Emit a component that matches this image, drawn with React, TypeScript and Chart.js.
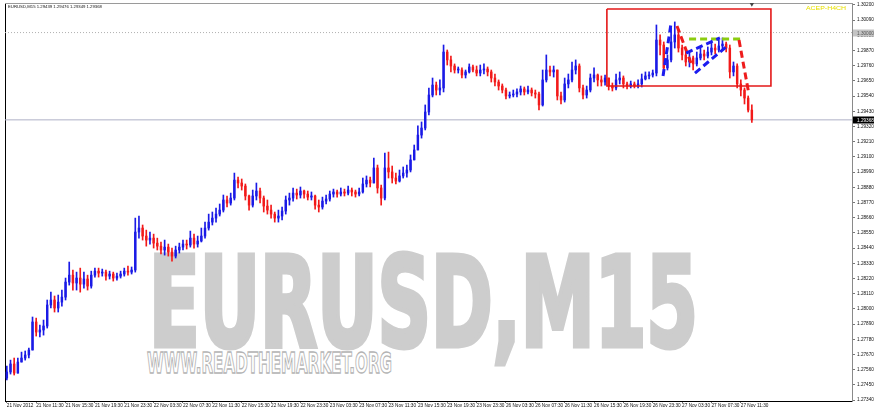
import React, { useEffect, useLayoutEffect, useRef } from "react";
import { Chart, registerables } from "chart.js";

Chart.register(...registerables);

// ---------- data (EURUSD M15, bars of 30 min) ----------
const FIRST_OPEN = 1.27499;

const closes = [
  1.27543, 1.27601, 1.27535, 1.27615, 1.27644, 1.27666, 1.27702, 1.27905, 1.27832, 1.27847,
  1.27876, 1.28028, 1.28064, 1.28006, 1.28049, 1.28085, 1.28194, 1.28244, 1.28187, 1.28223,
  1.28179, 1.28216, 1.28165, 1.28244, 1.28273, 1.28259, 1.28266, 1.28237, 1.28252, 1.28223,
  1.28237, 1.28252, 1.28273, 1.28266, 1.28281, 1.28556, 1.28585, 1.28527, 1.28498, 1.28512,
  1.28476, 1.28454, 1.28426, 1.28447, 1.28411, 1.28382, 1.28426, 1.28447, 1.28469, 1.28462,
  1.28512, 1.28469, 1.28491, 1.28527, 1.28585, 1.28628, 1.28657, 1.28686, 1.28715, 1.28788,
  1.28766, 1.28802, 1.28932, 1.28911, 1.28889, 1.28817, 1.28751, 1.28817, 1.28853, 1.28802,
  1.28744, 1.28715, 1.28686, 1.28657, 1.28672, 1.28708, 1.28788, 1.28802, 1.28838, 1.28824,
  1.28853, 1.28831, 1.28809, 1.28817, 1.28751, 1.28737, 1.28780, 1.28795, 1.28831, 1.28846,
  1.28831, 1.28846, 1.28838, 1.28860, 1.28846, 1.28831, 1.28846, 1.28904, 1.28932, 1.28911,
  1.29020, 1.28875, 1.28802, 1.29020, 1.28991, 1.28947, 1.28925, 1.28962, 1.28983, 1.29005,
  1.29078, 1.29150, 1.29258, 1.29309, 1.29425, 1.29548, 1.29620, 1.29584, 1.29599, 1.29859,
  1.29802, 1.29758, 1.29729, 1.29729, 1.29693, 1.29715, 1.29751, 1.29729, 1.29707, 1.29729,
  1.29736, 1.29715, 1.29671, 1.29642, 1.29613, 1.29584, 1.29541, 1.29548, 1.29555, 1.29570,
  1.29592, 1.29570, 1.29584, 1.29563, 1.29555, 1.29476, 1.29657, 1.29729, 1.29715, 1.29729,
  1.29541, 1.29512, 1.29628, 1.29657, 1.29729, 1.29758, 1.29599, 1.29548, 1.29584, 1.29671,
  1.29693, 1.29657, 1.29642, 1.29671, 1.29613, 1.29599, 1.29657, 1.29671, 1.29628, 1.29613,
  1.29628, 1.29613, 1.29628, 1.29664, 1.29686, 1.29693, 1.29707, 1.29946, 1.29910, 1.29744,
  1.29802, 1.29932, 1.29983, 1.29888, 1.29838, 1.29787, 1.29816, 1.29773, 1.29816, 1.29845,
  1.29830, 1.29859, 1.29888, 1.29874, 1.29903, 1.29917, 1.29888, 1.29715, 1.29758, 1.29628,
  1.29584, 1.29526, 1.29439, 1.29368,
];

const highs = [
  1.27586, 1.27629, 1.27644, 1.27644, 1.27687, 1.27695, 1.27716, 1.27941, 1.27933, 1.27883,
  1.27919, 1.28064, 1.28121, 1.28093, 1.28100, 1.28136, 1.28223, 1.28339, 1.28281, 1.28266,
  1.28295, 1.28266, 1.28244, 1.28273, 1.28295, 1.28295, 1.28288, 1.28281, 1.28273, 1.28266,
  1.28259, 1.28273, 1.28295, 1.28310, 1.28303, 1.28657, 1.28672, 1.28607, 1.28570, 1.28556,
  1.28541, 1.28512, 1.28484, 1.28498, 1.28469, 1.28440, 1.28454, 1.28476, 1.28498, 1.28498,
  1.28563, 1.28541, 1.28527, 1.28585, 1.28628, 1.28686, 1.28701, 1.28730, 1.28759, 1.28824,
  1.28817, 1.28838, 1.28983, 1.28954, 1.28940, 1.28904, 1.28824, 1.28860, 1.28911, 1.28875,
  1.28817, 1.28788, 1.28751, 1.28701, 1.28715, 1.28737, 1.28817, 1.28838, 1.28875, 1.28867,
  1.28882, 1.28860, 1.28853, 1.28846, 1.28824, 1.28788, 1.28809, 1.28824, 1.28853, 1.28867,
  1.28860, 1.28875, 1.28867, 1.28889, 1.28875, 1.28860, 1.28875, 1.28947, 1.28962, 1.28954,
  1.29092, 1.29041, 1.28896, 1.29128, 1.29135, 1.29034, 1.28983, 1.29005, 1.29027, 1.29041,
  1.29114, 1.29186, 1.29324, 1.29353, 1.29476, 1.29599, 1.29671, 1.29642, 1.29657, 1.29910,
  1.29874, 1.29830, 1.29773, 1.29751, 1.29744, 1.29729, 1.29773, 1.29765, 1.29758, 1.29765,
  1.29773, 1.29751, 1.29729, 1.29700, 1.29657, 1.29628, 1.29599, 1.29570, 1.29584, 1.29592,
  1.29613, 1.29606, 1.29613, 1.29599, 1.29584, 1.29570, 1.29729, 1.29838, 1.29758, 1.29758,
  1.29729, 1.29570, 1.29671, 1.29700, 1.29787, 1.29802, 1.29773, 1.29620, 1.29613, 1.29700,
  1.29744, 1.29700, 1.29686, 1.29693, 1.29657, 1.29635, 1.29700, 1.29715, 1.29686, 1.29642,
  1.29649, 1.29642, 1.29657, 1.29700, 1.29715, 1.29715, 1.29729, 1.30055, 1.29983, 1.29932,
  1.29838, 1.30033, 1.30077, 1.30019, 1.29910, 1.29874, 1.29852, 1.29830, 1.29859, 1.29888,
  1.29874, 1.29896, 1.29932, 1.29917, 1.29946, 1.29961, 1.29932, 1.29910, 1.29787, 1.29773,
  1.29657, 1.29599, 1.29541, 1.29476,
];

const lows = [
  1.27485, 1.27528, 1.27521, 1.27572, 1.27615, 1.27629, 1.27644, 1.27731, 1.27803, 1.27796,
  1.27810, 1.27861, 1.28006, 1.27977, 1.27977, 1.28020, 1.28064, 1.28172, 1.28136, 1.28136,
  1.28121, 1.28150, 1.28136, 1.28150, 1.28230, 1.28230, 1.28237, 1.28208, 1.28216, 1.28201,
  1.28208, 1.28223, 1.28237, 1.28244, 1.28252, 1.28266, 1.28512, 1.28498, 1.28454, 1.28469,
  1.28440, 1.28426, 1.28397, 1.28389, 1.28382, 1.28346, 1.28368, 1.28404, 1.28426, 1.28433,
  1.28447, 1.28440, 1.28447, 1.28484, 1.28512, 1.28570, 1.28607, 1.28628, 1.28672, 1.28701,
  1.28737, 1.28751, 1.28788, 1.28875, 1.28860, 1.28788, 1.28715, 1.28737, 1.28788, 1.28766,
  1.28701, 1.28686, 1.28657, 1.28628, 1.28628, 1.28643, 1.28686, 1.28751, 1.28780, 1.28795,
  1.28802, 1.28802, 1.28788, 1.28788, 1.28722, 1.28701, 1.28722, 1.28759, 1.28780, 1.28809,
  1.28809, 1.28817, 1.28817, 1.28824, 1.28817, 1.28809, 1.28817, 1.28838, 1.28882, 1.28882,
  1.28911, 1.28838, 1.28751, 1.28788, 1.28947, 1.28911, 1.28904, 1.28918, 1.28947, 1.28954,
  1.28991, 1.29078, 1.29150, 1.29236, 1.29295, 1.29403, 1.29534, 1.29548, 1.29548, 1.29570,
  1.29765, 1.29715, 1.29707, 1.29707, 1.29671, 1.29671, 1.29707, 1.29715, 1.29686, 1.29686,
  1.29700, 1.29686, 1.29642, 1.29613, 1.29584, 1.29563, 1.29519, 1.29526, 1.29534, 1.29534,
  1.29548, 1.29548, 1.29555, 1.29541, 1.29526, 1.29440, 1.29468, 1.29642, 1.29686, 1.29678,
  1.29512, 1.29483, 1.29497, 1.29599, 1.29642, 1.29700, 1.29570, 1.29519, 1.29526, 1.29570,
  1.29642, 1.29613, 1.29613, 1.29620, 1.29584, 1.29577, 1.29584, 1.29628, 1.29599, 1.29592,
  1.29599, 1.29599, 1.29599, 1.29606, 1.29657, 1.29664, 1.29678, 1.29686, 1.29838, 1.29700,
  1.29729, 1.29787, 1.29888, 1.29859, 1.29802, 1.29758, 1.29751, 1.29729, 1.29758, 1.29802,
  1.29802, 1.29816, 1.29838, 1.29845, 1.29859, 1.29874, 1.29859, 1.29671, 1.29686, 1.29599,
  1.29541, 1.29483, 1.29425, 1.29349,
];

const xTickLabels = [
  "21 Nov 2012", "21 Nov 11:30", "21 Nov 15:30", "21 Nov 19:30", "21 Nov 23:30",
  "22 Nov 03:30", "22 Nov 07:30", "22 Nov 11:30", "22 Nov 15:30", "22 Nov 19:30", "22 Nov 23:30",
  "23 Nov 03:30", "23 Nov 07:30", "23 Nov 11:30", "23 Nov 15:30", "23 Nov 19:30", "23 Nov 23:30",
  "26 Nov 03:30", "26 Nov 07:30", "26 Nov 11:30", "26 Nov 15:30", "26 Nov 19:30", "26 Nov 23:30",
  "27 Nov 03:30", "27 Nov 07:30", "27 Nov 11:30",
];
const BARS_PER_LABEL = 8;

const yTickValues = [
  1.302, 1.3009, 1.2998, 1.2987, 1.2976, 1.2965, 1.2954, 1.2943, 1.2932, 1.2921, 1.291,
  1.2899, 1.2888, 1.2877, 1.2866, 1.2855, 1.2844, 1.2833, 1.2822, 1.2811, 1.28, 1.2789,
  1.2778, 1.2767, 1.2756, 1.2745, 1.2734,
];

const CURRENT_PRICE = 1.29368;
const LEVEL_PRICE = 1.3;
const HEADER = "EURUSD,M15 1.29439 1.29476 1.29349 1.29368";

// red box (bar index / price)
const boxX = [163.5, 208.2];
const boxY = [1.30171, 1.29613];

// hand drawn dashed trend lines: [x1, y1, x2, y2]
const blueLines = [
  [178.8, 1.29686, 181.0, 1.30069],
  [185.1, 1.29852, 194.3, 1.29961],
  [187.5, 1.29707, 196.0, 1.29896],
];
const redLines = [
  [182.6, 1.30048, 186.4, 1.2978],
  [199.5, 1.29946, 202.2, 1.29555],
];
const greenLines = [[185.9, 1.29954, 200.6, 1.29954]];
const shiftMarker = [203, 1.30205];

// ---------- view ----------
const X_MIN = -0.5;
const X_MAX = 230.29;
const Y_MIN = 1.27333;
const Y_MAX = 1.30214;
const UP = "#1a1ae6";
const DOWN = "#f21a1a";
const FONT = '"Liberation Sans", Arial, sans-serif';

function FitText(props: {
  text: string; left: number; top: number; width: number; fontSize: number;
  scaleY?: number; style?: React.CSSProperties;
}) {
  const ref = useRef<HTMLSpanElement>(null);
  useLayoutEffect(() => {
    const fit = () => {
      const el = ref.current;
      if (!el) return;
      el.style.transform = "none";
      const w = el.getBoundingClientRect().width;
      if (w > 0) el.style.transform = `scale(${props.width / w}, ${props.scaleY ?? 1})`;
    };
    fit();
    (document as any).fonts?.ready?.then(fit);
  }, []);
  return (
    <span
      ref={ref}
      style={{
        position: "absolute", left: props.left, top: props.top, fontSize: props.fontSize,
        lineHeight: 1, whiteSpace: "nowrap", transformOrigin: "0 0", ...props.style,
      }}
    >
      {props.text}
    </span>
  );
}

const priceTags = {
  id: "priceTags",
  afterDraw(chart: any) {
    const { ctx, chartArea } = chart;
    const y = chart.scales.y;
    const tag = (val: number, bg: string, fg: string) => {
      const py = Math.round(y.getPixelForValue(val));
      ctx.save();
      ctx.fillStyle = bg;
      ctx.fillRect(chartArea.right + 1, py - 3.5, 21, 7);
      ctx.fillStyle = fg;
      ctx.font = `4.7px ${FONT}`;
      ctx.textBaseline = "middle";
      ctx.textAlign = "left";
      ctx.fillText(val.toFixed(5), chartArea.right + 5, py + 0.3);
      ctx.restore();
    };
    tag(LEVEL_PRICE, "#c4c4c4", "#555");
    tag(CURRENT_PRICE, "#000", "#fff");
  },
};

export default function App() {
  const canvasRef = useRef<HTMLCanvasElement>(null);

  useEffect(() => {
    const opens = closes.map((_, i) => (i === 0 ? FIRST_OPEN : closes[i - 1]));
    const colors = closes.map((c, i) => (c >= opens[i] ? UP : DOWN));
    const wickData = closes.map((c, i) => ({
      x: i,
      y: [Math.min(lows[i], opens[i], c), Math.max(highs[i], opens[i], c)],
    }));
    const bodyData = closes.map((c, i) => ({ x: i, y: [opens[i], c] }));

    const seg = (s: number[], color: string) => ({
      type: "line" as const,
      data: [{ x: s[0], y: s[1] }, { x: s[2], y: s[3] }],
      borderColor: color,
      borderWidth: 3,
      borderDash: [7, 4],
      pointRadius: 0,
      order: 0,
      clip: false as any,
    });

    const chart = new Chart(canvasRef.current!, {
      type: "bar",
      data: {
        datasets: [
          {
            type: "line",
            data: [{ x: X_MIN, y: CURRENT_PRICE }, { x: X_MAX, y: CURRENT_PRICE }],
            borderColor: "#aeb0c6",
            borderWidth: 1,
            pointRadius: 0,
            order: 5,
          } as any,
          {
            type: "line",
            data: [{ x: X_MIN, y: LEVEL_PRICE }, { x: X_MAX, y: LEVEL_PRICE }],
            borderColor: "#b0b0b0",
            borderWidth: 1,
            borderDash: [1, 2],
            pointRadius: 0,
            order: 5,
          } as any,
          {
            type: "bar",
            data: wickData,
            backgroundColor: colors,
            barThickness: 1,
            grouped: false,
            order: 3,
          } as any,
          {
            type: "bar",
            data: bodyData,
            backgroundColor: colors,
            barThickness: 1.8,
            minBarLength: 1,
            grouped: false,
            order: 2,
          } as any,
          {
            type: "line",
            data: [
              { x: boxX[0], y: boxY[0] }, { x: boxX[1], y: boxY[0] },
              { x: boxX[1], y: boxY[1] }, { x: boxX[0], y: boxY[1] },
              { x: boxX[0], y: boxY[0] },
            ],
            borderColor: "#e41818",
            borderWidth: 1.6,
            pointRadius: 0,
            order: 1,
          } as any,
          ...blueLines.map((s) => seg(s, "#1c1cf0")),
          ...redLines.map((s) => seg(s, "#ee1c1c")),
          ...greenLines.map((s) => seg(s, "#8ccc10")),
          {
            type: "line",
            data: [{ x: shiftMarker[0], y: shiftMarker[1] }],
            showLine: false,
            pointStyle: "triangle",
            rotation: 180,
            pointRadius: 2.5,
            pointBackgroundColor: "#444",
            pointBorderWidth: 0,
            clip: false,
            order: 0,
          } as any,
        ],
      },
      options: {
        responsive: false,
        animation: false,
        events: [],
        layout: { padding: { left: 5, top: 3, right: 0, bottom: 0 }, autoPadding: false } as any,
        plugins: {
          legend: { display: false },
          tooltip: { enabled: false },
          title: { display: false },
        },
        scales: {
          x: {
            type: "linear",
            position: "bottom",
            min: X_MIN,
            max: X_MAX,
            offset: false,
            afterBuildTicks: (s: any) => {
              s.ticks = xTickLabels.map((_, k) => ({ value: k * BARS_PER_LABEL }));
            },
            afterFit: (s: any) => {
              s.height = 9;
              s.paddingLeft = 0;
              s.paddingRight = 0;
            },
            ticks: {
              autoSkip: false,
              maxRotation: 0,
              minRotation: 0,
              align: "start",
              padding: 0,
              color: "#111",
              font: { size: 4.7, family: FONT },
              callback: (_v: any, i: number) => xTickLabels[i] ?? "",
            },
            grid: { drawOnChartArea: false, tickLength: 2, color: "#777", offset: false },
            border: { display: true, color: "#000", width: 1 },
          } as any,
          y: {
            type: "linear",
            position: "right",
            min: Y_MIN,
            max: Y_MAX,
            afterBuildTicks: (s: any) => {
              s.ticks = yTickValues.map((v) => ({ value: v }));
            },
            afterFit: (s: any) => {
              s.width = 22;
              s.paddingTop = 0;
              s.paddingBottom = 0;
            },
            ticks: {
              padding: 2,
              color: "#111",
              font: { size: 4.7, family: FONT },
              callback: (v: any) => Number(v).toFixed(5),
            },
            grid: { drawOnChartArea: false, tickLength: 3, color: "#777" },
            border: { display: true, color: "#8a8a8a", width: 1 },
          } as any,
          yl: {
            type: "linear",
            display: true,
            position: "left",
            min: Y_MIN,
            max: Y_MAX,
            ticks: { display: false },
            grid: { display: false, drawTicks: false },
            border: { display: true, color: "#000", width: 1 },
            afterFit: (s: any) => {
              s.width = 0;
              s.paddingTop = 0;
              s.paddingBottom = 0;
            },
          } as any,
          xt: {
            type: "linear",
            display: true,
            position: "top",
            min: X_MIN,
            max: X_MAX,
            ticks: { display: false },
            grid: { display: false, drawTicks: false },
            border: { display: true, color: "#9a9a9a", width: 1 },
            afterFit: (s: any) => {
              s.height = 0;
              s.paddingLeft = 0;
              s.paddingRight = 0;
            },
          } as any,
        },
      },
      plugins: [priceTags],
    });
    return () => chart.destroy();
  }, []);

  return (
    <div
      style={{
        position: "fixed", left: 0, top: 0, width: 874, height: 410,
        background: "#fff", overflow: "hidden",
      }}
    >
      <FitText
        text="EURUSD,M15"
        left={149}
        top={240}
        width={549}
        fontSize={125}
        style={{
          fontFamily: '"Liberation Sans Narrow", "DejaVu Sans Condensed", "Liberation Sans", sans-serif',
          fontWeight: 700, color: "#cdcdcd", WebkitTextStroke: "5px #cdcdcd", zIndex: 0,
        } as any}
      />
      <FitText
        text="WWW.READTHEMARKET.ORG"
        left={147}
        top={349}
        width={245}
        fontSize={29}
        style={{
          fontFamily: '"Liberation Sans Narrow", "DejaVu Sans Condensed", "Liberation Sans", sans-serif',
          fontWeight: 700, color: "#ffffff", WebkitTextStroke: "1.3px #b4b4b4", zIndex: 0,
        } as any}
      />
      <canvas
        ref={canvasRef}
        width={874}
        height={410}
        style={{ position: "absolute", left: 0, top: 0, width: 874, height: 410, zIndex: 1 }}
      />
      <FitText
        text={HEADER}
        left={8}
        top={5}
        width={94}
        fontSize={8}
        scaleY={0.55}
        style={{ fontFamily: FONT, color: "#111", zIndex: 2 }}
      />
      <FitText
        text="ACEP-H4CH"
        left={806}
        top={6}
        width={40}
        fontSize={8}
        scaleY={0.6}
        style={{ fontFamily: FONT, color: "#e8e000", zIndex: 2 }}
      />
    </div>
  );
}
